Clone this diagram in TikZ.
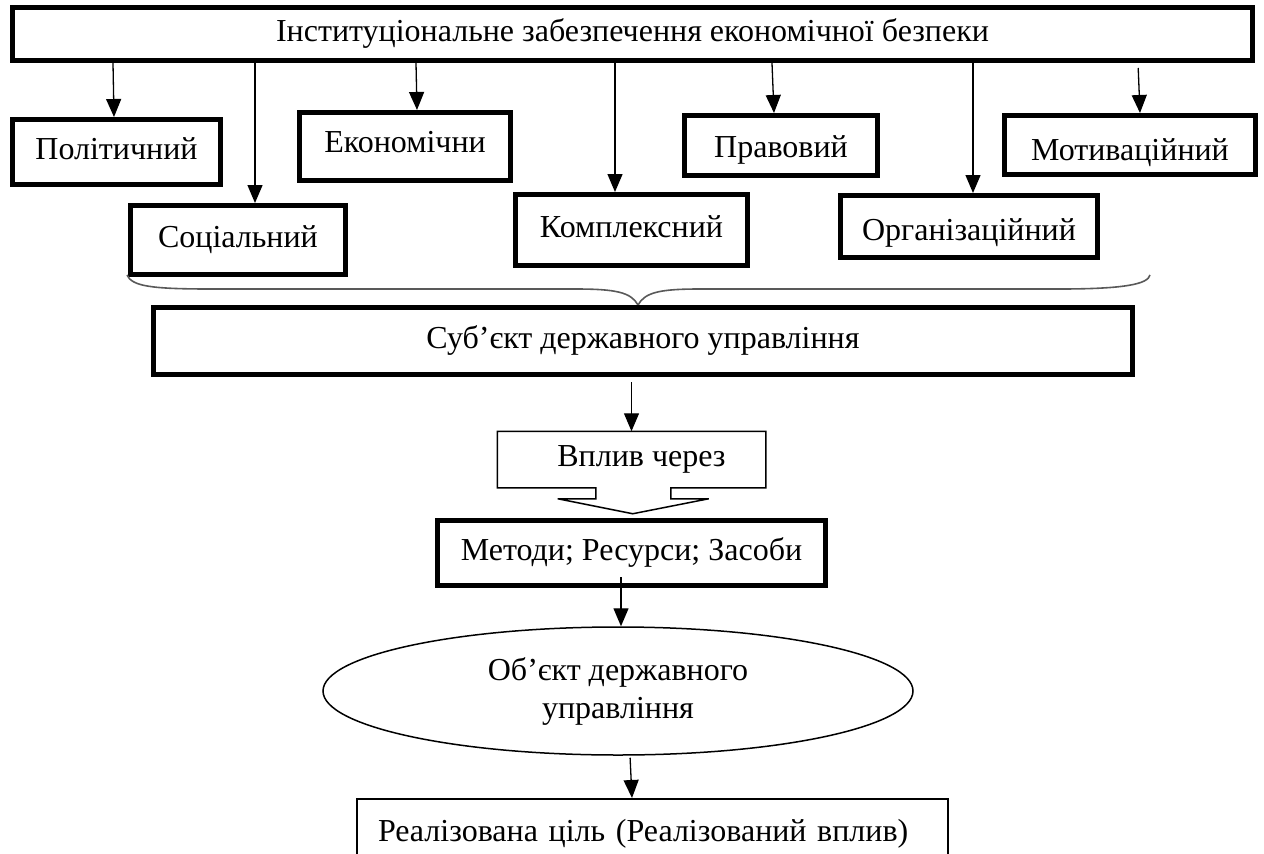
\documentclass[tikz,border=0pt]{standalone}
\usepackage{fontspec}
\setmainfont{Liberation Serif}
\usetikzlibrary{arrows.meta,shapes.geometric}

\tikzset{
  blk/.style={draw,line width=5pt,inner sep=0pt,text height=22pt,text depth=7pt,font=\fontsize{32}{38}\selectfont},
  thinbox/.style={line width=1.5pt,inner sep=0pt,font=\fontsize{32}{38}\selectfont},
  arr/.style={-{Triangle[length=18pt,width=15pt]},line width=1.3pt},
  brc/.style={line width=1.6pt,black!65}
}

\begin{document}
\begin{tikzpicture}[x=1pt,y=-1pt]
  \useasboundingbox (0,0) rectangle (1264,854);
  % Top part: kinds of support
  \node[blk,minimum width=1240,minimum height=53] (inst) at (632.5,34) {Інституціональне забезпечення економічної безпеки};
  \node[blk,minimum width=208,minimum height=65] (pol) at (116.5,152) {Політичний};
  \node[blk,minimum width=215,minimum height=69] (soc) at (238,240) {Соціальний};
  \node[blk,minimum width=211,minimum height=68,text height=18pt] (eco) at (405,146.5) {Економічни};
  \node[blk,minimum width=232,minimum height=71] (com) at (631.5,230) {Комплексний};
  \node[blk,minimum width=193,minimum height=60,text height=30pt] (law) at (781,145.5) {Правовий};
  \node[blk,minimum width=257,minimum height=62,text height=34pt] (org) at (969,226.5) {Організаційний};
  \node[blk,minimum width=251,minimum height=59,text height=38pt] (mot) at (1130,145) {Мотиваційний};
  \draw[arr] (inst.south -| 113,0) -- ([xshift=-2.5]pol.north);
  \draw[arr] (inst.south -| 255,0) -- ([xshift=17]soc.north);
  \draw[arr] (inst.south -| 416,0) -- ([xshift=12]eco.north);
  \draw[arr] (inst.south -| 615,0) -- ([xshift=-16.5]com.north);
  \draw[arr] (inst.south -| 772,0) -- ([xshift=-7]law.north);
  \draw[arr] (inst.south -| 973,0) -- ([xshift=4]org.north);
  \draw[arr,shorten <=5pt] (inst.south -| 1138,0) -- ([xshift=10]mot.north);
  % Brace
  \coordinate (bl) at (127,275);
  \coordinate (br) at (1150,275);
  \coordinate (tip) at (638,305);
  \draw[brc] (bl) .. controls (132,286) and (150,289) .. (210,289) -- (575,289)
    .. controls (615,289) and (631,292) .. (tip)
    .. controls (645,292) and (661,289) .. (700,289) -- (1060,289)
    .. controls (1125,289) and (1148,284) .. (br);
  % Lower part
  \node[blk,minimum width=979,minimum height=67] (subj) at (643,341) {Суб’єкт державного управління};
  \node[thinbox,minimum width=267,minimum height=55] (via) at (631.5,459.5) {\hspace{20pt}Вплив через};
  \draw[line width=1.5pt] (via.south east) -- ++(-95,0) -- ++(0,11) -- ++(38,0) -- ++(-76,15)
    -- ++(-75,-15) -- ++(38,0) -- ++(0,-11) -- (via.south west) -- (via.north west) -- (via.north east) -- cycle;
  \node[blk,minimum width=388,minimum height=65] (meth) at (631.5,553) {Методи; Ресурси; Засоби};
  \node[thinbox,draw,ellipse,minimum width=590,minimum height=128,align=center] (obj) at (618,691) {Об’єкт державного\\управління};
  \node[thinbox,draw,anchor=north,minimum width=591,minimum height=70,text width=549,inner xsep=21pt,align=left] (goal) at (652.5,798) {Реалізована ціль (Реалізований вплив)};
  \draw[arr,shorten <=5pt] (subj.south -| via.north) -- (via.north);
  \draw[arr,shorten <=-11pt] (meth.south -| 621,0) -- (obj.north -| 621,0);
  \draw[arr,shorten <=2pt] (obj.south -| 630,0) -- (goal.north -| 632,0);
\end{tikzpicture}
\end{document}
